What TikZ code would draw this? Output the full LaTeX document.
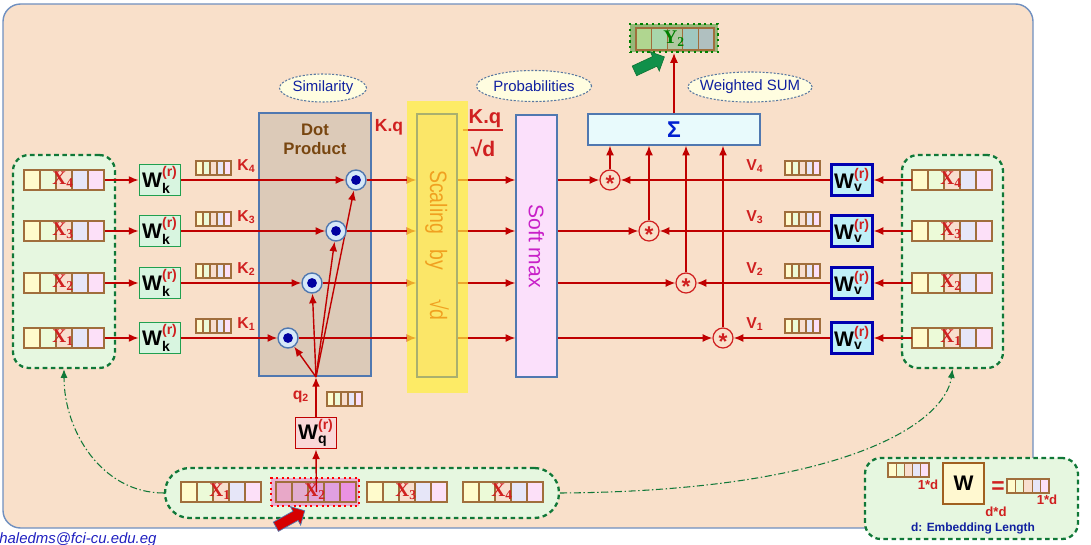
\documentclass[tikz,border=0pt]{standalone}
\usepackage{amsmath}
\usepackage{fontspec}
\setmainfont{Liberation Sans}
\newfontfamily\xserif{Liberation Serif}
\usetikzlibrary{arrows.meta, positioning, calc, shapes.geometric, shapes.arrows}

\pgfdeclarelayer{front}
\pgfsetlayers{main,front}

\definecolor{bgpeach}{RGB}{249,224,202}
\definecolor{bgedge}{RGB}{112,144,192}
\definecolor{grpfill}{RGB}{230,247,224}
\definecolor{grpedge}{RGB}{16,120,56}
\definecolor{cellbr}{RGB}{160,110,60}
\definecolor{vY}{RGB}{255,251,204}
\definecolor{vG}{RGB}{236,250,216}
\definecolor{vP}{RGB}{248,222,206}
\definecolor{vL}{RGB}{230,230,248}
\definecolor{vK}{RGB}{252,224,248}
\definecolor{hA}{RGB}{232,168,200}
\definecolor{hB}{RGB}{226,172,208}
\definecolor{hC}{RGB}{226,164,214}
\definecolor{hD}{RGB}{224,160,224}
\definecolor{hE}{RGB}{234,146,226}
\definecolor{hfill}{RGB}{234,176,210}
\definecolor{yA}{RGB}{176,214,144}
\definecolor{yB}{RGB}{168,214,170}
\definecolor{yC}{RGB}{176,200,160}
\definecolor{yD}{RGB}{160,200,192}
\definecolor{yE}{RGB}{176,192,192}
\definecolor{yfill}{RGB}{150,184,120}
\definecolor{ygreen}{RGB}{0,128,0}
\definecolor{lred}{RGB}{192,0,0}
\definecolor{tred}{RGB}{208,32,32}
\definecolor{wkfill}{RGB}{216,245,224}
\definecolor{wkedge}{RGB}{32,160,80}
\definecolor{wvfill}{RGB}{192,240,248}
\definecolor{wvedge}{RGB}{0,0,176}
\definecolor{wqfill}{RGB}{250,216,216}
\definecolor{dpfill}{RGB}{220,202,184}
\definecolor{boxedge}{RGB}{80,120,176}
\definecolor{dptext}{RGB}{120,70,16}
\definecolor{dcfill}{RGB}{214,232,248}
\definecolor{dcdot}{RGB}{0,0,160}
\definecolor{scout}{RGB}{255,240,60}
\definecolor{scin}{RGB}{251,230,104}
\definecolor{scedge}{RGB}{170,176,110}
\definecolor{sctext}{RGB}{240,160,32}
\definecolor{smfill}{RGB}{251,224,251}
\definecolor{smtext}{RGB}{200,32,200}
\definecolor{sgfill}{RGB}{232,250,252}
\definecolor{sgtext}{RGB}{0,32,208}
\definecolor{annfill}{RGB}{255,253,224}
\definecolor{annedge}{RGB}{90,120,160}
\definecolor{anntext}{RGB}{16,32,160}
\definecolor{garrow}{RGB}{16,144,74}
\definecolor{rarrow}{RGB}{214,0,0}
\definecolor{wyfill}{RGB}{255,248,208}
\definecolor{wyedge}{RGB}{160,96,32}
\definecolor{mailblue}{RGB}{32,32,192}

\begin{document}
\begin{tikzpicture}[
		x=0.02cm, y=-0.02cm,
		font=\fontsize{8.5}{10}\selectfont,
		arrow/.style={-{Latex[length=5.5pt,width=4.5pt]}, draw=lred, line width=0.8pt},
		flow/.style={-{Latex[length=5pt,width=4pt]}, draw=grpedge, line width=0.6pt, dash pattern=on 4pt off 1.5pt on 0.8pt off 1.5pt},
		grp/.style={rectangle, rounded corners=9pt, draw=grpedge, fill=grpfill, line width=1.3pt, dash pattern=on 2.6pt off 2pt},
		cellb/.style={draw=cellbr, line width=0.7pt},
		xlab/.style={font=\xserif\bfseries\fontsize{11}{12}\selectfont, text=tred, inner sep=0pt},
		rlab/.style={font=\bfseries\fontsize{9}{10}\selectfont, text=tred, inner sep=0pt},
		wbox/.style={rectangle, line width=1.1pt, minimum width=0.82cm, minimum height=0.62cm, inner sep=0pt, font=\bfseries\fontsize{12}{14}\selectfont},
		wk/.style={wbox, draw=wkedge, fill=wkfill},
		wv/.style={wbox, draw=wvedge, fill=wvfill, line width=1.3pt},
		wq/.style={wbox, draw=lred, fill=wqfill},
		tall/.style={rectangle, draw=boxedge, line width=0.8pt, minimum height=5.26cm, inner sep=0pt},
		dotc/.style={circle, draw=boxedge, fill=dcfill, line width=0.8pt, minimum size=0.4cm, inner sep=0pt,
			path picture={\fill[dcdot] (path picture bounding box.center) circle (2.8pt);}},
		star/.style={circle, draw=tred, fill=bgpeach, line width=0.7pt, minimum size=0.4cm, inner sep=0pt,
			text=tred, font=\bfseries\fontsize{13}{13}\selectfont},
		ann/.style={ellipse, draw=annedge, fill=annfill, line width=0.6pt, dash pattern=on 1.2pt off 0.9pt,
			text=anntext, minimum width=1.74cm, minimum height=0.56cm, inner sep=0pt},
		pics/vrow/.style n args={4}{code={
				\foreach \c [count=\k from 0] in {#3}
				\draw[cellb, fill=\c] ({\k*#1},{-#2/2}) rectangle ++(#1,#2);
				\node[inner sep=0pt, minimum width={5*#1*0.02cm}, minimum height={#2*0.02cm}, anchor=west] (-v) at (0,0) {};
				\node[xlab] at ({2.45*#1},0) {#4};
		}}
		]
		\useasboundingbox (0,0) rectangle (1091,544);
		
		% 1. Background and groups
		\draw[draw=bgedge, fill=bgpeach, line width=0.8pt, rounded corners=10pt] (3,4) rectangle (1033,528);
		\node[grp, minimum width=2.04cm, minimum height=4.26cm] (lgrp) at (64,261.5) {};
		\node[grp, minimum width=2.02cm, minimum height=4.26cm] (rgrp) at (952.5,261.5) {};
		\node[grp, minimum width=7.88cm, minimum height=1cm, rounded corners=14pt] (bgrp) at (362,493) {};
		
		% 2. Dot product, softmax, weighted sum
		\node[tall, fill=dpfill, minimum width=2.24cm] (dot) at (315,244.5) {};
		\node[font=\bfseries\fontsize{9.5}{11}\selectfont, text=dptext, align=center, below=0.1cm of dot.north] (dotlbl) {Dot\\Product};
		\node[tall, fill=smfill, minimum width=0.82cm, minimum height=5.24cm] (smax) at (536.5,246) {};
		\node[rotate=-90, text=smtext, font=\fontsize{12}{14}\selectfont] (smaxlbl) at (smax) {Soft max};
		\node[rectangle, draw=boxedge, fill=sgfill, line width=0.8pt, minimum width=3.44cm, minimum height=0.62cm,
		text=sgtext, font=\bfseries\fontsize{13}{14}\selectfont] (sigma) at (674,129.5) {Σ};
		
		% 3. Scaling (on top of the lines)
		\begin{pgfonlayer}{front}
			\node[rectangle, fill=scout, fill opacity=0.7, minimum width=1.22cm, minimum height=5.84cm] (scalebg) at (437.5,247) {};
			\node[tall, draw=scedge, fill=scin, minimum width=0.8cm] (scale) at (437,245.5) {};
			\node[rotate=-90, text=sctext, font=\fontsize{13.5}{15}\selectfont] (scalelbl) at (scale)
			{\scalebox{0.82}[1]{Scaling\hspace{11pt}by\hspace{20pt}√d}};
		\end{pgfonlayer}
		
		% 4. Labels
		\node[ann] (sim) at (323,88) {Similarity};
		\node[ann, minimum width=2.22cm, minimum height=0.62cm] (prob) at (534,86) {Probabilities};
		\node[ann, minimum width=2.44cm, minimum height=0.6cm, inner xsep=-3.5pt] (wsum) at (750,87) {Weighted SUM};
		\node[rlab, font=\bfseries\fontsize{10}{12}\selectfont] (kq) at (389,127) {K.q};
		\node[rlab, font=\bfseries\fontsize{11.5}{13}\selectfont] (kqn) at (485,119) {K.q};
		\node[rlab, font=\bfseries\fontsize{12}{13}\selectfont] (kqd) at (483,148) {√d};
		\draw[tred, line width=1.2pt] (463,130) -- (503,130);
		
		% 5. Query path
		\coordinate (q) at (316,377);
		\pic (xb1) at (181,492) {vrow={16}{20}{vY,vG,vP,vL,vK}{X\textsubscript{1}}};
		\node[rectangle, draw=red, fill=hfill, dotted, line width=1.2pt, minimum width=1.76cm, minimum height=0.56cm] (xh) at (315,492) {};
		\pic (xb2) at (276,492) {vrow={16}{20}{hA,hB,hC,hD,hE}{X\textsubscript{2}}};
		\pic (xb3) at (367,492) {vrow={16}{20}{vY,vG,vP,vL,vK}{X\textsubscript{3}}};
		\pic (xb4) at (463,492) {vrow={16}{20}{vY,vG,vP,vL,vK}{X\textsubscript{4}}};
		\node[wq] (wq) at (316,433) {W$_{\textbf{q}}^{\textcolor{tred}{\textbf{(r)}}}$};
		\pic at (327,399) {vrow={7}{14}{vY,vG,vP,vL,vK}{}};
		\node[rlab] (q2) at (301,397) {q\textsubscript{2}};
		\draw[arrow] (xb2-v.center) -- (wq.south);
		\draw[arrow, line width=1.2pt] (wq.north) -- (q);
		
		% 6. Rows of keys and values
		\foreach \i/\y/\dx/\sx in {4/180/356/610, 3/231/336/649, 2/283/312/686, 1/338/288/723} {
			\pic (xl\i) at (24,\y) {vrow={16}{20}{vY,vG,vP,vL,vK}{X\textsubscript{\i}}};
			\node[wk] (wk\i) at (160,\y) {W$_{\textbf{k}}^{\textcolor{tred}{\textbf{(r)}}}$};
			\pic at (196,\y-12) {vrow={7}{14}{vY,vG,vP,vL,vK}{}};
			\node[rlab, anchor=west] (k\i) at (237,\y-14) {K\textsubscript{\i}};
			\node[dotc] (dp\i) at (\dx,\y) {};
			\pic (xr\i) at (912,\y) {vrow={16}{20}{vY,vG,vP,vL,vK}{X\textsubscript{\i}}};
			\node[wv] (wv\i) at (852,\y) {W$_{\textbf{v}}^{\textcolor{tred}{\textbf{(r)}}}$};
			\pic at (785,\y-12) {vrow={7}{14}{vY,vG,vP,vL,vK}{}};
			\node[rlab, anchor=west] (v\i) at (746,\y-14) {V\textsubscript{\i}};
			\node[star] (st\i) at (\sx,\y) {\raisebox{-0.5em}[0pt][0pt]{*}};
			
			\draw[arrow] (xl\i-v.east) -- (wk\i.west);
			\draw[arrow] (wk\i.east) -- (dp\i.west);
			\draw[arrow] (q) -- (dp\i);
			\draw[arrow] (dp\i.east) -- (dp\i -| scale.west);
			\draw[arrow] (dp\i -| scale.east) -- (dp\i -| smax.west);
			\draw[arrow] (dp\i -| smax.east) -- (st\i.west);
			\draw[arrow] (xr\i-v.west) -- (wv\i.east);
			\draw[arrow] (wv\i.west) -- (st\i.east);
			\draw[arrow] (st\i.north) -- (st\i.north |- sigma.south);
		}
		
		% 7. Output
		\node[rectangle, draw=ygreen, fill=yfill, dotted, line width=1.3pt, minimum width=1.76cm, minimum height=0.56cm] (y2) at (674,38) {};
		\pic at (636,39) {vrow={15.6}{22}{yA,yB,yC,yD,yE}{\textcolor{ygreen}{Y\textsubscript{2}}}};
		\draw[arrow, line width=0.6pt] (sigma.north) -- (y2.south);
		\node[single arrow, fill=garrow, draw=grpedge, rotate=25, minimum height=0.66cm, single arrow head extend=3pt, inner sep=2.8pt] (ptry) at (647,65) {};
		\node[single arrow, fill=rarrow, draw=boxedge, rotate=29, minimum height=0.66cm, single arrow head extend=3pt, inner sep=2.8pt] (ptrx) at (288,520) {};
		
		% 8. Links back to the keys and values
		\draw[flow] (bgrp.west) to[out=180, in=-90] (lgrp.south);
		\draw[flow] (bgrp.east) .. controls +(290,-2) and +(-7,52) .. (rgrp.south);
		
		% 9. Legend
		\node[grp, minimum width=4.26cm, minimum height=1.62cm] (legend) at (971.5,498.5) {};
		\pic at (888,470) {vrow={8.2}{14}{vY,vG,vP,vL,vK}{}};
		\node[rlab, font=\bfseries\fontsize{7.5}{9}\selectfont] (ld1) at (928,485) {1*d};
		\node[rectangle, draw=wyedge, fill=wyfill, line width=1.1pt, minimum width=0.82cm, minimum height=0.82cm,
		font=\bfseries\fontsize{12}{14}\selectfont] (wy) at (963.5,483.5) {W};
		\node[rlab, font=\bfseries\fontsize{7.5}{9}\selectfont] (ldd) at (996,512) {d*d};
		\node[rlab, font=\bfseries\fontsize{13}{14}\selectfont] (leq) at (998,488) {=};
		\pic at (1007,486) {vrow={8.4}{14}{vY,vG,vP,vL,vK}{}};
		\node[rlab, font=\bfseries\fontsize{7.5}{9}\selectfont] (ld2) at (1047,500) {1*d};
		\node[text=anntext, font=\bfseries\fontsize{6.8}{8}\selectfont] (lcap) at (973,528) {d: Embedding Length};
		
		\node[anchor=base west, inner sep=0pt, text=mailblue, font=\itshape\fontsize{8.5}{10}\selectfont] (mail) at (-1,543) {haledms@fci-cu.edu.eg};
	\end{tikzpicture}
\end{document}
